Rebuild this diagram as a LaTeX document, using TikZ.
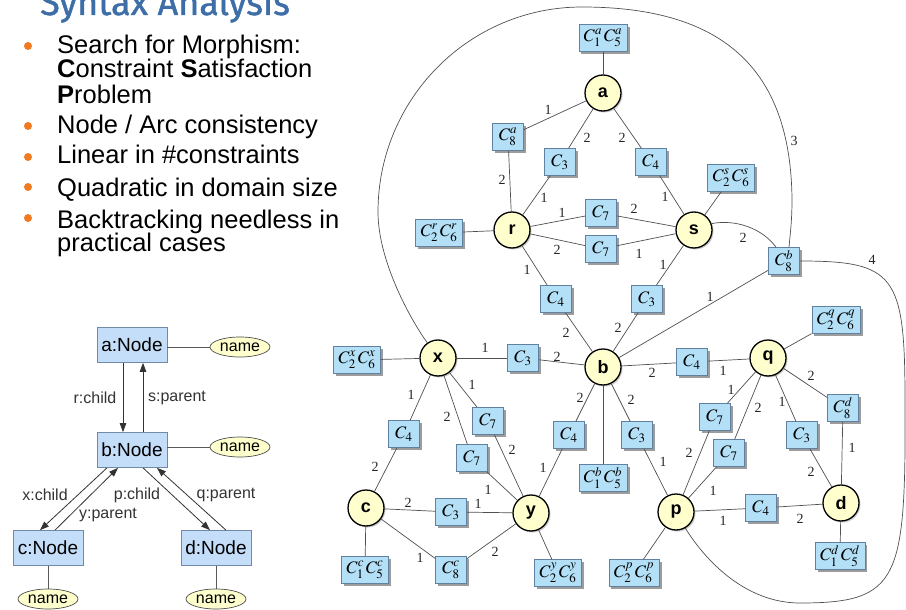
\documentclass[tikz,border=0pt]{standalone}
\usepackage{mathptmx}
\usepackage[no-math]{fontspec}
\setmainfont{Liberation Sans}
\newfontfamily\serifnum{Liberation Serif}
\newfontfamily\titlefont{Fira Sans}[FakeBold=1.2]
\usetikzlibrary{shapes.geometric,arrows.meta,shadows}

\definecolor{titleblue}{RGB}{62,110,168}
\definecolor{bulletorange}{RGB}{240,122,32}
\definecolor{umlblue}{RGB}{196,221,248}
\definecolor{umlborder}{RGB}{112,138,168}
\definecolor{cspblue}{RGB}{179,224,246}
\definecolor{cspborder}{RGB}{96,130,160}
\definecolor{nodeyellow}{RGB}{255,255,206}
\definecolor{edgegray}{RGB}{80,80,80}

\begin{document}
\begin{tikzpicture}[x=1pt,y=-1pt,
  bullettext/.style={anchor=base west,inner sep=0,font=\fontsize{25.5}{25.5}\selectfont},
  bulletdot/.style={circle,fill=bulletorange,minimum size=8pt,inner sep=0},
  umlbox/.style={rectangle,draw=umlborder,fill=umlblue,line width=0.7pt,
    minimum width=70pt,minimum height=35pt,inner sep=0,font=\fontsize{19}{19}\selectfont},
  attr/.style={ellipse,draw=black!70,fill=nodeyellow,line width=0.7pt,
    minimum width=60pt,minimum height=20pt,inner sep=0,font=\fontsize{16}{16}\selectfont},
  umllink/.style={draw=black!65,line width=0.8pt},
  umlarrow/.style={draw=black!80,line width=0.8pt,-{Triangle[length=9pt,width=6.5pt]}},
  umllbl/.style={inner sep=0,text=black!80,font=\fontsize{16}{16}\selectfont},
  cbox/.style={rectangle,draw=cspborder,fill=cspblue,line width=0.6pt,
    minimum width=31pt,minimum height=27pt,inner xsep=5pt,inner ysep=2pt,
    font=\fontsize{17.5}{18}\selectfont,
    drop shadow={shadow xshift=2.5pt,shadow yshift=-2.5pt,fill=black!55,opacity=.7}},
  vnode/.style={circle,draw=black,fill=nodeyellow,line width=1.3pt,
    minimum size=36pt,inner sep=0,font=\bfseries\fontsize{18}{18}\selectfont,
    drop shadow={shadow xshift=1.5pt,shadow yshift=-1.5pt,fill=black!40,opacity=.5}},
  edge/.style={draw=edgegray,line width=0.7pt},
  elbl/.style={inner sep=0,text=black!85,font=\serifnum\fontsize{14}{14}\selectfont}]

\useasboundingbox (0,0) rectangle (906,610);
\clip (0,0) rectangle (906,610);
\fill[white] (0,0) rectangle (906,610);

% ---------- title and bullet list ----------
\node[anchor=base west,inner sep=0,text=titleblue,
      font=\titlefont\fontsize{36}{36}\selectfont] (title) at (40,15) {Syntax Analysis};

\node[bulletdot] (d1) at (28,46) {};
\node[bulletdot] (d2) at (28,126) {};
\node[bulletdot] (d3) at (28,157) {};
\node[bulletdot] (d4) at (28,187) {};
\node[bulletdot] (d5) at (28,218) {};
\node[bullettext] (t1) at (57,54) {Search for Morphism:};
\node[bullettext] (t2) at (57,78) {\textbf{C}onstraint \textbf{S}atisfaction};
\node[bullettext] (t3) at (57,103) {\textbf{P}roblem};
\node[bullettext] (t4) at (57,133) {Node / Arc consistency};
\node[bullettext] (t5) at (57,164) {Linear in \#constraints};
\node[bullettext] (t6) at (57,196) {Quadratic in domain size};
\node[bullettext] (t7) at (57,228) {Backtracking needless in};
\node[bullettext] (t8) at (57,251) {practical cases};

% ---------- object diagram ----------
\node[umlbox] (aN) at (132,345) {a:Node};
\node[umlbox] (bN) at (132,450) {b:Node};
\node[umlbox] (cN) at (48,548) {c:Node};
\node[umlbox] (dN) at (216,548) {d:Node};
\node[attr] (na) at (240,347) {name};
\node[attr] (nb) at (240,447) {name};
\node[attr] (nc) at (48,599) {name};
\node[attr] (nd) at (216,599) {name};

\draw[umllink] (aN.east |- na) -- (na.west);
\draw[umllink] (bN.east |- nb) -- (nb.west);
\draw[umllink] (cN.south) -- (nc.north);
\draw[umllink] (dN.south) -- (nd.north);

\draw[umlarrow] ([xshift=-9pt]aN.south) -- ([xshift=-9pt]bN.north);
\draw[umlarrow] ([xshift=11pt]bN.north) -- ([xshift=11pt]aN.south);
\draw[umlarrow] ([xshift=-25pt]bN.south) -- ([xshift=-8pt]cN.north);
\draw[umlarrow] ([xshift=7pt]cN.north) -- ([xshift=-14pt]bN.south);
\draw[umlarrow] ([xshift=11pt]bN.south) -- ([xshift=-6pt]dN.north);
\draw[umlarrow] ([xshift=10pt]dN.north) -- ([xshift=25pt]bN.south);

\node[umllbl] (lr) at (95,398) {r:child};
\node[umllbl] (ls) at (177,398) {s:parent};
\node[umllbl] (lx) at (45,495) {x:child};
\node[umllbl] (ly) at (108,515) {y:parent};
\node[umllbl] (lp) at (137,495) {p:child};
\node[umllbl] (lq) at (226,495) {q:parent};

% ---------- constraint graph ----------
\node[vnode] (a) at (603,93) {a};
\node[vnode] (r) at (512,230) {r};
\node[vnode] (s) at (694,230) {s};
\node[vnode] (x) at (438,358) {x};
\node[vnode] (b) at (603,367) {b};
\node[vnode] (q) at (768,358) {q};
\node[vnode] (c) at (366,508) {c};
\node[vnode] (y) at (531,513) {y};
\node[vnode] (p) at (676,512) {p};
\node[vnode] (d) at (841,503) {d};

\node[cbox] (Ca) at (603,38) {$C_1^a\,C_5^a$};
\node[cbox] (Cr) at (439,233) {$C_2^r\,C_6^r$};
\node[cbox] (Cs) at (731,178) {$C_2^s\,C_6^s$};
\node[cbox] (Cx) at (357,360) {$C_2^x\,C_6^x$};
\node[cbox] (Cq) at (836,320) {$C_2^q\,C_6^q$};
\node[cbox] (Cb) at (603,478) {$C_1^b\,C_5^b$};
\node[cbox] (Cc) at (365,570) {$C_1^c\,C_5^c$};
\node[cbox] (Cy) at (558,573) {$C_2^y\,C_6^y$};
\node[cbox] (Cp) at (634,573) {$C_2^p\,C_6^p$};
\node[cbox] (Cd) at (840,556) {$C_1^d\,C_5^d$};
\node[cbox] (C8a) at (508,137) {$C_8^a$};
\node[cbox] (C8b) at (784,261) {$C_8^b$};
\node[cbox] (C8c) at (451,570) {$C_8^c$};
\node[cbox] (C8d) at (843,408) {$C_8^d$};
\node[cbox] (C3ar) at (560,162) {$C_3$};
\node[cbox] (C4as) at (651,162) {$C_4$};
\node[cbox] (C7u) at (601,213) {$C_7$};
\node[cbox] (C7l) at (601,249) {$C_7$};
\node[cbox] (C4rb) at (556,299) {$C_4$};
\node[cbox] (C3sb) at (647,299) {$C_3$};
\node[cbox] (C3xb) at (523,358) {$C_3$};
\node[cbox] (C4bq) at (692,362) {$C_4$};
\node[cbox] (C4xc) at (404,434) {$C_4$};
\node[cbox] (C7xa) at (488,421) {$C_7$};
\node[cbox] (C7xb) at (472,458) {$C_7$};
\node[cbox] (C4yb) at (569,435) {$C_4$};
\node[cbox] (C3bp) at (637,435) {$C_3$};
\node[cbox] (C7qa) at (715,417) {$C_7$};
\node[cbox] (C7qb) at (729,453) {$C_7$};
\node[cbox] (C3qd) at (802,435) {$C_3$};
\node[cbox] (C3cy) at (451,512) {$C_3$};
\node[cbox] (C4pd) at (761,508) {$C_4$};

% straight constraint edges
\foreach \u/\v in {a/Ca,a/C8a,a/C3ar,a/C4as,
  r/C8a,r/C3ar,r/C7u,r/C7l,r/C4rb,r/Cr,
  s/C4as,s/C7u,s/C7l,s/C3sb,s/Cs,
  b/C4rb,b/C3sb,b/C8b,b/C3xb,b/C4bq,b/Cb,b/C4yb,b/C3bp,
  x/Cx,x/C3xb,x/C4xc,x/C7xa,x/C7xb,
  c/C4xc,c/C3cy,c/C8c,c/Cc,
  y/C7xa,y/C7xb,y/C4yb,y/C3cy,y/C8c,y/Cy,
  q/C4bq,q/Cq,q/C7qa,q/C7qb,q/C3qd,q/C8d,
  p/C3bp,p/C7qa,p/C7qb,p/C4pd,p/Cp,
  d/C3qd,d/C8d,d/C4pd,d/Cd}
  \draw[edge] (\u) -- (\v);

% curved constraint edges
\draw[edge] (s.20) .. controls (735,219) and (762,228) .. (C8b.120);
\draw[edge] (x.125) .. controls (412,322) and (378,262) .. (378,212)
  .. controls (378,99) and (469,7) .. (582,7)
  .. controls (720,7) and (791,66) .. (792,200)
  .. controls (792,222) and (790,235) .. (C8b.70);
\draw[edge] (C8b.east) .. controls (895,261) and (905,275) .. (905,400)
  .. controls (906,580) and (900,603) .. (800,603)
  .. controls (745,603) and (705,560) .. (p.-60);

% edge labels
\foreach \pos/\t [count=\i] in {{548,110}/1,{587,138}/2,{622,138}/2,{502,180}/2,
  {544,198}/1,{562,213}/1,{557,250}/2,{527,270}/1,{634,209}/2,{639,254}/1,
  {665,197}/1,{663,265}/1,{743,238}/2,{710,297}/1,{794,141}/3,{872,260}/4,
  {566,333}/2,{618,328}/2,{557,357}/2,{485,348}/1,{652,373}/2,{723,371}/1,
  {580,398}/2,{543,468}/1,{631,400}/2,{663,462}/1,{411,395}/1,{375,467}/2,
  {472,385}/1,{512,450}/2,{447,417}/2,{488,490}/1,{408,503}/2,{478,504}/1,
  {420,558}/1,{495,552}/2,{731,390}/1,{689,453}/2,{758,408}/2,{713,491}/1,
  {782,402}/1,{811,472}/2,{811,376}/2,{852,448}/1,{723,521}/1,{800,519}/2}
  \node[elbl] (lab\i) at (\pos) {\t};
\end{tikzpicture}
\end{document}
